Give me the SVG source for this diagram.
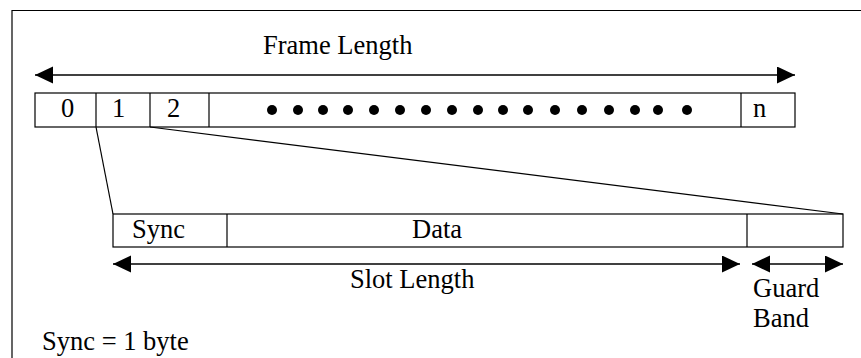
<svg xmlns="http://www.w3.org/2000/svg" width="861" height="358" viewBox="0 0 861 358">
<style>
  .t { font-family: "Liberation Serif", "Times New Roman", serif; font-size: 26.5px; fill: #000; }
  .box { fill: #fff; stroke: #000; stroke-width: 1.2; }
  .ln { stroke: #000; stroke-width: 1.2; fill: none; }
  .arr { stroke: #000; stroke-width: 1.4; fill: none; marker-start: url(#ah); marker-end: url(#ah); }
  .dot { fill: #000; }
</style>
<defs>
  <marker id="ah" markerUnits="userSpaceOnUse" markerWidth="20" markerHeight="18" refX="18" refY="8.5" orient="auto-start-reverse">
    <path d="M0,0 L18,8.5 L0,17 Z" fill="#000"/>
  </marker>
</defs>
<rect width="861" height="358" fill="#fff"/>
<g id="border">
  <path class="ln" d="M12,358 L12,10.5 L861,10.5"/>
</g>
<g id="frame-length-label">
  <text class="t" x="263" y="54">Frame Length</text>
</g>
<g id="frame-row">
  <rect class="box" x="35" y="93" width="760" height="34"/>
  <line class="ln" x1="96" y1="93" x2="96" y2="127"/>
  <line class="ln" x1="150" y1="93" x2="150" y2="127"/>
  <line class="ln" x1="209" y1="93" x2="209" y2="127"/>
  <line class="ln" x1="741" y1="93" x2="741" y2="127"/>
  <text class="t" x="61" y="117">0</text>
  <text class="t" x="112" y="117">1</text>
  <text class="t" x="167" y="117">2</text>
  <text class="t" x="753" y="117">n</text>
  <g id="dots">
    <circle class="dot" cx="272" cy="110" r="5"/>
    <circle class="dot" cx="298" cy="110" r="5"/>
    <circle class="dot" cx="323" cy="110" r="5"/>
    <circle class="dot" cx="348" cy="110" r="5"/>
    <circle class="dot" cx="374" cy="110" r="5"/>
    <circle class="dot" cx="400" cy="110" r="5"/>
    <circle class="dot" cx="426" cy="110" r="5"/>
    <circle class="dot" cx="452" cy="110" r="5"/>
    <circle class="dot" cx="478" cy="110" r="5"/>
    <circle class="dot" cx="503" cy="110" r="5"/>
    <circle class="dot" cx="528" cy="110" r="5"/>
    <circle class="dot" cx="555" cy="110" r="5"/>
    <circle class="dot" cx="582" cy="110" r="5"/>
    <circle class="dot" cx="609" cy="110" r="5"/>
    <circle class="dot" cx="635" cy="110" r="5"/>
    <circle class="dot" cx="658" cy="110" r="5"/>
    <circle class="dot" cx="687" cy="110" r="5"/>
  </g>
</g>
<g id="slot-row">
  <rect class="box" x="113" y="214" width="730" height="33"/>
  <line class="ln" x1="227" y1="214" x2="227" y2="247"/>
  <line class="ln" x1="747" y1="214" x2="747" y2="247"/>
  <text class="t" x="132" y="238">Sync</text>
  <text class="t" x="412" y="238">Data</text>
</g>
<g id="slot-length-label">
  <text class="t" x="350" y="288">Slot Length</text>
</g>
<g id="guard-band-label">
  <text class="t" x="753" y="297">Guard</text>
  <text class="t" x="753" y="327">Band</text>
</g>
<g id="sync-note">
  <text class="t" x="42" y="350">Sync = 1 byte</text>
</g>
<g id="connectors">
  <line class="arr" x1="35" y1="75" x2="795" y2="75"/>
  <line class="arr" x1="113" y1="264" x2="740" y2="264"/>
  <line class="arr" x1="752" y1="264" x2="843" y2="264"/>
  <line class="ln" x1="96" y1="127" x2="113" y2="214"/>
  <line class="ln" x1="150" y1="127" x2="843" y2="214"/>
</g>
</svg>
